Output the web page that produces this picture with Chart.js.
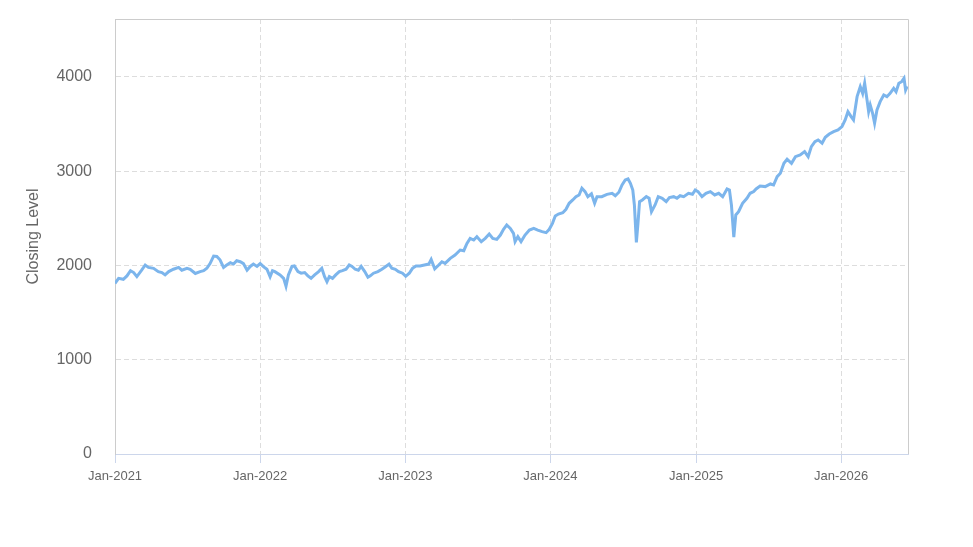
<!DOCTYPE html>
<html>
<head>
<meta charset="utf-8">
<script src="https://cdn.jsdelivr.net/npm/chart.js@4.4.1/dist/chart.umd.min.js"></script>
<style>
  html, body { margin: 0; padding: 0; background: #fff; }
  #wrap { width: 973px; height: 547px; }
</style>
</head>
<body>
<div id="wrap"><canvas id="closingChart" width="973" height="547"></canvas></div>
<script>
// closing levels, every week or so
var dates = [
	'2021-01-01','2021-01-10','2021-01-22','2021-01-31','2021-02-09','2021-02-17','2021-02-25','2021-03-09','2021-03-18','2021-03-26',
	'2021-04-08','2021-04-20','2021-04-29','2021-05-07','2021-05-16','2021-05-28','2021-06-10','2021-06-18','2021-07-01','2021-07-09',
	'2021-07-22','2021-08-03','2021-08-12','2021-08-20','2021-08-28','2021-09-06','2021-09-14','2021-09-22','2021-10-01','2021-10-09',
	'2021-10-18','2021-10-26','2021-11-03','2021-11-12','2021-11-20','2021-11-29','2021-12-07','2021-12-15','2021-12-24',
	'2022-01-01','2022-01-10','2022-01-18','2022-01-26','2022-02-01','2022-02-07','2022-02-20','2022-03-01','2022-03-07','2022-03-13',
	'2022-03-22','2022-03-28','2022-04-06','2022-04-14','2022-04-23','2022-05-01','2022-05-09','2022-05-18','2022-05-28','2022-06-05',
	'2022-06-12','2022-06-18','2022-06-24','2022-07-02','2022-07-10','2022-07-19','2022-07-27','2022-08-05','2022-08-13','2022-08-20',
	'2022-08-28','2022-09-05','2022-09-12','2022-09-21','2022-09-29','2022-10-05','2022-10-13','2022-10-24','2022-11-03','2022-11-13',
	'2022-11-21','2022-11-28','2022-12-07','2022-12-15','2022-12-25',
	'2023-01-02','2023-01-11','2023-01-19','2023-01-28','2023-02-07','2023-02-18','2023-03-01','2023-03-07','2023-03-16','2023-03-26',
	'2023-04-03','2023-04-11','2023-04-24','2023-05-06','2023-05-19','2023-05-28','2023-06-05','2023-06-13','2023-06-22','2023-06-30',
	'2023-07-11','2023-07-21','2023-07-31','2023-08-09','2023-08-19','2023-08-28','2023-09-05','2023-09-13','2023-09-22','2023-09-30',
	'2023-10-04','2023-10-11','2023-10-19','2023-10-29','2023-11-09','2023-11-20','2023-11-30','2023-12-11','2023-12-21','2023-12-29',
	'2024-01-06','2024-01-13','2024-01-21','2024-02-01','2024-02-09','2024-02-17','2024-02-26','2024-03-05','2024-03-13','2024-03-20',
	'2024-03-28','2024-04-04','2024-04-13','2024-04-21','2024-04-27','2024-05-09','2024-05-22','2024-06-04','2024-06-12','2024-06-21',
	'2024-06-29','2024-07-07','2024-07-14','2024-07-20','2024-07-26','2024-07-30','2024-08-04','2024-08-08','2024-08-12','2024-08-19',
	'2024-08-29','2024-09-05','2024-09-11','2024-09-20','2024-09-28','2024-10-08','2024-10-18','2024-10-26','2024-11-06','2024-11-14',
	'2024-11-22','2024-12-01','2024-12-13','2024-12-23','2024-12-30',
	'2025-01-06','2025-01-16','2025-01-26','2025-02-06','2025-02-17','2025-02-27','2025-03-09','2025-03-20','2025-03-26','2025-03-31',
	'2025-04-06','2025-04-11','2025-04-18','2025-04-28','2025-05-09','2025-05-17','2025-05-26','2025-06-01','2025-06-11','2025-06-24',
	'2025-07-07','2025-07-15','2025-07-24','2025-08-01','2025-08-10','2025-08-18','2025-08-29','2025-09-08','2025-09-20','2025-10-01',
	'2025-10-10','2025-10-18','2025-10-27','2025-11-04','2025-11-14','2025-11-22','2025-12-02','2025-12-13','2025-12-24',
	'2026-01-03','2026-01-11','2026-01-18','2026-01-26','2026-02-01','2026-02-10','2026-02-18','2026-02-24','2026-03-01','2026-03-07',
	'2026-03-11','2026-03-15','2026-03-21','2026-03-26','2026-04-01','2026-04-09','2026-04-18','2026-04-26','2026-05-04','2026-05-13',
	'2026-05-19','2026-05-26','2026-06-02','2026-06-08','2026-06-12','2026-06-16'
];
var closes = [
	1810,1864,1853,1889,1945,1925,1882,1950,2005,1980, 1970,1935,1925,1900,1935,1960,1980,1950,1970,1960,
	1915,1935,1945,1970,2020,2100,2095,2060,1980,2005, 2030,2015,2050,2040,2020,1950,1990,2015,1990,
	2020,1985,1960,1880,1945,1935,1900,1864,1780,1900, 1990,1995,1935,1918,1925,1890,1864,1900,1935,1970,
	1882,1828,1882,1864,1900,1935,1945,1960,2005,1990, 1960,1950,1990,1935,1875,1890,1918,1935,1960,1990,
	2015,1970,1960,1935,1918,
	1885,1918,1970,1995,1995,2005,2015,2065,1965,2005, 2040,2023,2076,2111,2164,2157,2235,2288,2270,2306,
	2253,2288,2334,2288,2277,2323,2384,2430,2394,2341, 2253,2306,2253,2323,2376,2394,2376,2359,2348,2384,
	2447,2525,2546,2560,2596,2660,2695,2730,2748,2819, 2784,2730,2760,2660,2730,2730,2755,2766,2740,2777,
	2854,2907,2918,2872,2801,2642,2245,2447,2677,2695, 2730,2713,2571,2642,2730,2713,2677,2720,2730,2713,
	2740,2730,2766,2755,2801,
	2784,2730,2766,2784,2748,2766,2730,2812,2801,2642, 2300,2536,2571,2660,2713,2766,2784,2812,2843,2837,
	2865,2854,2943,2978,3084,3127,3084,3155,3173,3208, 3155,3261,3314,3332,3297,3360,3395,3420,3438,
	3473,3544,3632,3580,3544,3791,3897,3826,3933,3756, 3632,3703,3615,3509,3650,3738,3809,3791,3826,3880,
	3844,3933,3950,3986,3862,3900
];
var tickYears = [2021, 2022, 2023, 2024, 2025, 2026];
var yTicks = [0, 1000, 2000, 3000, 4000];

function toTime(s) {
	var p = s.split('-');
	return Date.UTC(+p[0], +p[1] - 1, +p[2]);
}

var points = dates.map(function (d, i) {
	return { x: toTime(d), y: closes[i] };
});

// top and right edge of the plot box
var framePlugin = {
	id: 'frame',
	beforeDatasetsDraw: function (chart) {
		var a = chart.chartArea, ctx = chart.ctx;
		ctx.save();
		ctx.strokeStyle = '#cccccc';
		ctx.lineWidth = 1;
		ctx.beginPath();
		ctx.moveTo(a.left, Math.round(a.top) + 0.5);
		ctx.lineTo(Math.round(a.right) + 0.5, Math.round(a.top) + 0.5);
		ctx.lineTo(Math.round(a.right) + 0.5, a.bottom);
		ctx.stroke();
		ctx.restore();
	}
};

Chart.defaults.font.family = '"Liberation Sans", Arial, sans-serif';

new Chart(document.getElementById('closingChart').getContext('2d'), {
	type: 'line',
	data: {
		datasets: [{
			label: 'Closing Level',
			data: points,
			borderColor: '#7cb5ec',
			borderWidth: 3,
			pointRadius: 0,
			tension: 0,
			fill: false
		}]
	},
	options: {
		responsive: false,
		animation: false,
		layout: {
			padding: { top: 19, right: 65, bottom: 0, left: 0 }
		},
		plugins: {
			legend: { display: false },
			tooltip: { enabled: false }
		},
		scales: {
			x: {
				type: 'linear',
				min: toTime('2021-01-01'),
				max: toTime('2026-06-18'),
				afterBuildTicks: function (axis) {
					axis.ticks = tickYears.map(function (y) { return { value: Date.UTC(y, 0, 1) }; });
				},
				afterFit: function (axis) {
					axis.height = 93;
					axis.paddingLeft = 0;
					axis.paddingRight = 0;
				},
				ticks: {
					autoSkip: false,
					maxRotation: 0,
					padding: 6,
					color: '#666666',
					font: { size: 13 },
					callback: function (v) { return 'Jan-' + new Date(v).getUTCFullYear(); }
				},
				grid: {
					color: '#dddddd',
					tickLength: 9,
					tickColor: '#ccd6eb'
				},
				border: { display: true, color: '#ccd6eb', width: 1, dash: [5, 3] }
			},
			y: {
				min: 0,
				max: 4615,
				afterBuildTicks: function (axis) {
					axis.ticks = yTicks.map(function (v) { return { value: v }; });
				},
				afterFit: function (axis) {
					axis.width = 115;
					axis.paddingTop = 0;
					axis.paddingBottom = 0;
				},
				ticks: {
					padding: 23,
					color: '#666666',
					font: { size: 16 },
					callback: function (v) { return String(v); }
				},
				grid: {
					color: '#dddddd',
					drawTicks: false
				},
				border: { display: true, color: '#cccccc', width: 1, dash: [5, 3] },
				title: {
					display: true,
					text: 'Closing Level',
					color: '#666666',
					font: { size: 16 },
					padding: { top: 24, bottom: 0 }
				}
			}
		}
	},
	plugins: [framePlugin]
});
</script>
</body>
</html>
